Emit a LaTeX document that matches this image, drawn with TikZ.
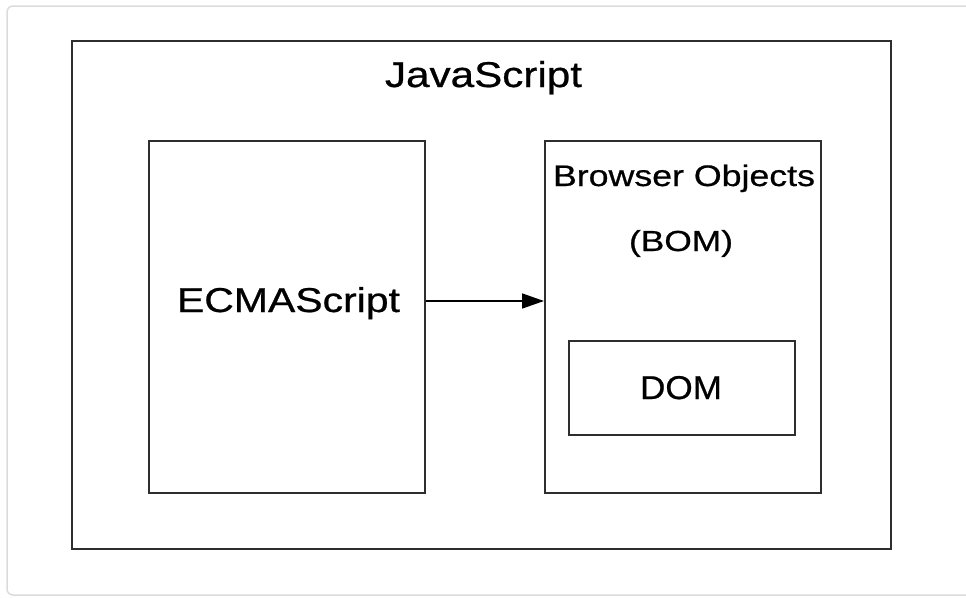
\documentclass[tikz,border=0pt]{standalone}
\usepackage{fontspec}
\setmainfont{Liberation Sans}
\newfontfamily\thk{Liberation Sans}[FakeBold=0.6]
\usetikzlibrary{arrows.meta}
\newcommand{\fittext}[3]{\resizebox{#1pt}{#2pt}{\thk #3}}
\tikzset{
  box/.style={draw=black!82, line width=2pt, minimum width=#1, inner sep=0pt},
  lbl/.style={inner sep=0pt, anchor=base, text=black},
  conn/.style={line width=1.6pt, -{Triangle[length=22pt,width=15pt]}}
}
\begin{document}
\begin{tikzpicture}[x=1pt,y=-1pt]
\useasboundingbox (0,0) rectangle (966,597);
\draw[black!14, line width=1.5pt, rounded corners=6pt] (7,6) rectangle (980,595);
% boxes
\node[box=819pt, minimum height=508pt] (js) at (481.5,295) {};
\node[box=276pt, minimum height=352pt] (ecma) at (287,317) {};
\node[box=276pt, minimum height=352pt] (bom) at (683,317) {};
\node[box=226pt, minimum height=94pt] (dom) at (682,388) {};
% labels
\node[lbl] (jst) at (483.5,87) {\fittext{197}{26}{JavaScript}};
\node[lbl] (ecmat) at (288.5,312) {\fittext{223}{25}{ECMAScript}};
\node[lbl] (bomt1) at (684,186) {\fittext{262}{21.5}{Browser Objects}};
\node[lbl] (bomt2) at (681,251) {\fittext{104}{21}{(BOM)}};
\node[lbl] (domt) at (681,399) {\fittext{82}{23}{DOM}};
% connector
\draw[conn] (ecma.east |- 0,301) -- (bom.west |- 0,301);
\end{tikzpicture}
\end{document}
